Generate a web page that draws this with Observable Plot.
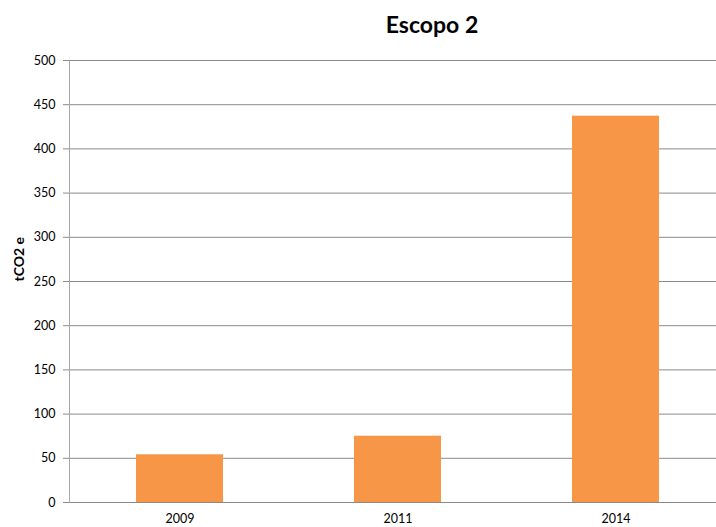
<!DOCTYPE html>
<html><head><meta charset="utf-8">
<script src="https://cdn.jsdelivr.net/npm/d3@7"></script>
<script src="https://cdn.jsdelivr.net/npm/@observablehq/plot@0.6"></script>
<style>
body{margin:0;background:#fff;width:716px;height:527px;overflow:hidden;font-family:Lato,"Open Sans",sans-serif}
#title{position:absolute;left:0;top:0;width:716px;height:48px;box-sizing:border-box;padding-left:148px;padding-top:10px;text-align:center;font-weight:bold;font-size:23px;line-height:28px;color:#000}
#chart{position:absolute;left:0;top:48px}
</style></head><body>
<div id="title">Escopo 2</div>
<div id="chart"></div>
<script>
const years = ["2009", "2011", "2014"];
const values = [54, 75, 437];
const yTicks = [0, 50, 100, 150, 200, 250, 300, 350, 400, 450, 500];
const yLabel = "tCO2 e";
const data = years.map((y, i) => ({year: y, value: values[i]}));

const chart = Plot.plot({
  width: 716, height: 479,
  marginTop: 12, marginBottom: 25, marginLeft: 69, marginRight: 0,
  style: {fontFamily: "Lato, 'Open Sans', sans-serif", fontSize: "12.5px", color: "#000", background: "#fff"},
  x: {domain: years, range: [69.5, 726], paddingInner: 0.6, paddingOuter: 0.3, label: null},
  y: {domain: [0, 500], label: null},
  marks: [
    Plot.ruleY(yTicks, {stroke: "#8a8a8a", strokeWidth: 1}),
    Plot.barY(data, {x: "year", y: "value", fill: "#F79646"}),
    Plot.ruleY([0], {stroke: "#8a8a8a", strokeWidth: 1}),
    Plot.frame({anchor: "left", stroke: "#a8a8a8", strokeWidth: 1}),
    Plot.axisY(yTicks, {tickSize: 6, tickPadding: 8, stroke: "#8a8a8a", fill: "#000", label: null}),
    Plot.text([yLabel], {frameAnchor: "left", rotate: -90, dx: -50, fontWeight: "bold", fontSize: 14, fill: "#000"}),
    Plot.axisX({tickSize: 0, tickPadding: 12, fill: "#000", label: null})
  ]
});
document.getElementById("chart").appendChild(chart);
</script>
</body></html>
